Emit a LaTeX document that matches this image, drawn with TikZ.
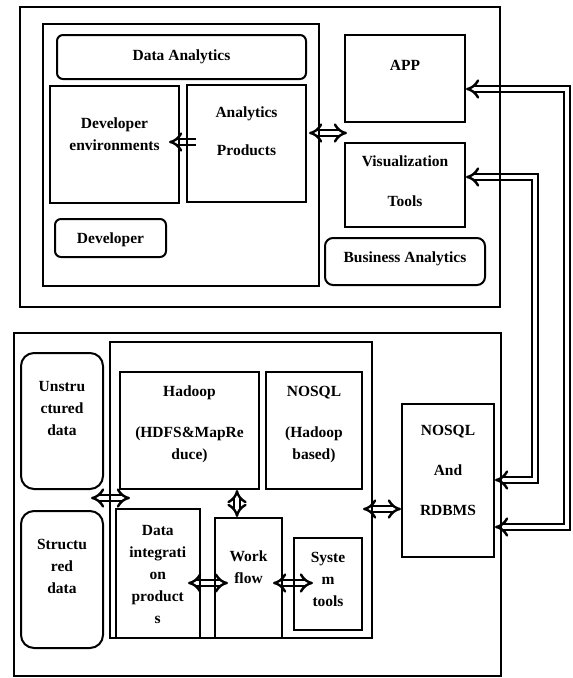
\documentclass[tikz,border=0pt]{standalone}
\usepackage{fontspec}
\setmainfont{Liberation Serif}
\usetikzlibrary{arrows.meta,fit,calc}
\pgfdeclarelayer{bg}
\pgfsetlayers{bg,main}
\begin{document}
\begin{tikzpicture}[x=1pt,y=-1pt,
  box/.style={draw, line width=2pt, inner sep=0pt},
  rbox/.style={box, rounded corners=6pt},
  bigr/.style={box, rounded corners=13pt},
  lbl/.style={font=\fontsize{15.5}{22}\selectfont\bfseries, align=center, inner sep=0pt},
  dar/.style={double=white, double distance=4pt, line width=2.4pt, {Implies}-{Implies}},
  sar/.style={double=white, double distance=4pt, line width=2.4pt, -{Implies}},
  ]
\useasboundingbox (0,0) rectangle (573,678);
% top part
\node[box, fit={(20,7)(500,307)}] (top) {};
\node[box, fit={(43,24)(319,286)}] (dac) {};
\node[rbox, fit={(57,35)(306,79)}] (da) {};
\node[box, fit={(50,86)(179,203)}] (de) {};
\node[box, fit={(187,85)(306,202)}] (ap) {};
\node[rbox, fit={(55,219)(166,257)}] (dev) {};
\node[box, fit={(345,35)(465,122)}] (app) {};
\node[box, fit={(345,143)(465,227)}] (vis) {};
\node[rbox, rounded corners=8pt, fit={(325,238)(485,285)}] (ba) {};
% bottom part
\node[box, fit={(13.5,333)(500.5,676)}] (bot) {};
\node[box, fit={(110,342)(372,638)}] (cont) {};
\node[bigr, fit={(21,353)(103,489)}] (uns) {};
\node[bigr, fit={(21,511)(103,648)}] (str) {};
\node[box, fit={(120,372)(259,489)}] (had) {};
\node[box, fit={(266,372)(362,489)}] (nos) {};
\node[box, fit={(115.5,509)(200,638)}] (di) {};
\node[box, fit={(215,518)(282,638)}] (wf) {};
\node[box, fit={(294,538)(362,630)}] (st) {};
\node[box, fit={(402,404)(494,557)}] (rd) {};
% labels
\node[lbl] (da-l) at (da.north |- 0,57) {Data Analytics};
\node[lbl] (de-l) at (de.north |- 0,135) {\strut Developer\\\strut environments};
\node[lbl] (ap-l) at (ap.north |- 0,132) {\strut Analytics\\[16pt]\strut Products};
\node[lbl] (app-l) at (app.north |- 0,65) {APP};
\node[lbl] (vis-l) at (vis.north |- 0,182) {\strut Visualization\\[18pt]\strut Tools};
\node[lbl] (dev-l) at (dev.north |- 0,240) {Developer};
\node[lbl] (ba-l) at (ba.north |- 0,259) {Business Analytics};
\node[lbl] (uns-l) at (uns.north |- 0,409.5) {\strut Unstru\\\strut ctured\\\strut data};
\node[lbl] (str-l) at (str.north |- 0,567) {\strut Structu\\\strut red\\\strut data};
\node[lbl] (had-l) at (had.north |- 0,423.5) {\strut Hadoop\\[19pt]\strut (HDFS\&MapRe\\\strut duce)};
\node[lbl] (nos-l) at (nos.north |- 0,423.5) {\strut NOSQL\\[19pt]\strut (Hadoop\\\strut based)};
\node[lbl] (di-l) at (di.north |- 0,575) {\strut Data\\\strut integrati\\\strut on\\\strut product\\\strut s};
\node[lbl] (wf-l) at (wf.north |- 0,568) {\strut Work\\\strut flow};
\node[lbl] (st-l) at (st.north |- 0,580) {\strut Syste\\\strut m\\\strut tools};
\node[lbl] (rd-l) at (rd.north |- 0,471.5) {\strut NOSQL\\[18pt]\strut And\\[18pt]\strut RDBMS};
% connectors
\begin{pgfonlayer}{bg}
\draw[sar] ($(ap.west |- 0,142)+(10,0)$) -- ($(de.east |- 0,142)+(-11,0)$);
\draw[dar] ($(ap.east |- 0,133)+(2,0)$) -- ($(app.west |- 0,133)+(3,0)$);
\draw[dar] (app.east |- 0,89) -- (567,89) -- (567,527) -- (rd.east |- 0,527);
\draw[dar] (vis.east |- 0,177) -- (535,177) -- (535,480) -- (rd.east |- 0,480);
\draw[dar] ($(uns.east |- 0,498)+(-13,0)$) -- ($(cont.west |- 0,498)+(21,0)$);
\draw[dar] (had.south -| 237,0) -- (wf.north -| 237,0);
\draw[dar] ($(di.east |- 0,583)+(-13,0)$) -- ($(wf.west |- 0,583)+(14,0)$);
\draw[dar] ($(wf.east |- 0,583)+(-10,0)$) -- ($(st.west |- 0,583)+(20,0)$);
\draw[dar] ($(cont.east |- 0,509)+(-10,0)$) -- (rd.west |- 0,509);
\end{pgfonlayer}
\end{tikzpicture}
\end{document}
